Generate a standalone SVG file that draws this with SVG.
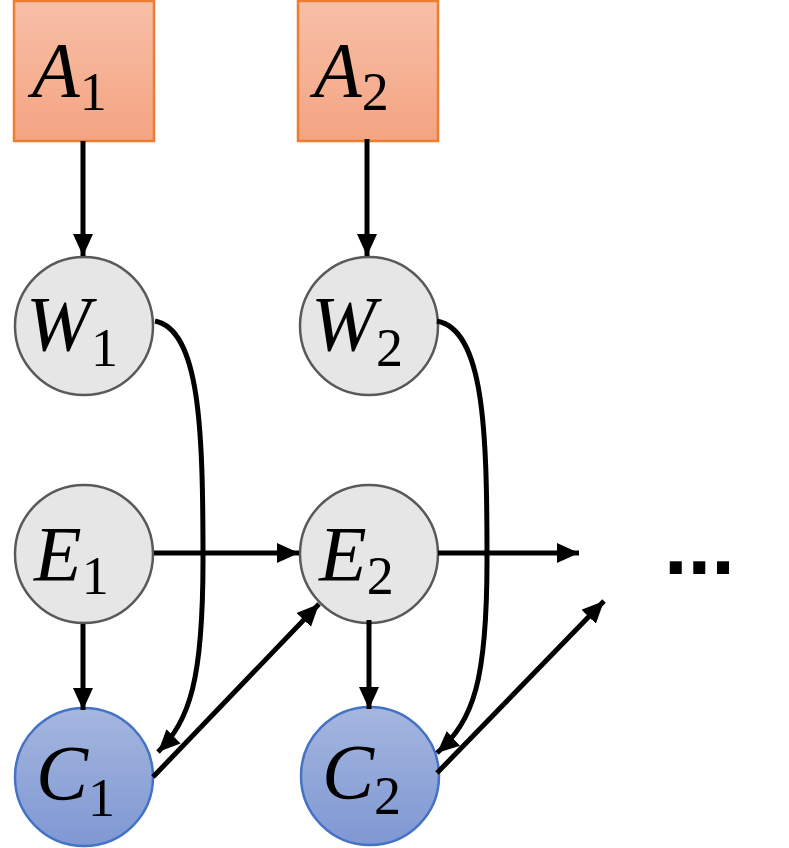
<svg xmlns="http://www.w3.org/2000/svg" width="789" height="848" viewBox="0 0 789 848">
<defs>
<linearGradient id="gA" x1="0" y1="0" x2="0" y2="1"><stop offset="0" stop-color="#f7bfa7"/><stop offset="1" stop-color="#f4a482"/></linearGradient>
<linearGradient id="gC" x1="0" y1="0" x2="0" y2="1"><stop offset="0" stop-color="#a5b6df"/><stop offset="1" stop-color="#7f98d3"/></linearGradient>
<marker id="ah" markerUnits="userSpaceOnUse" markerWidth="26" markerHeight="24" refX="22" refY="10" orient="auto"><path d="M0,0 L22,10 L0,20 Z" fill="#000"/></marker>
<style>
.box{fill:url(#gA);stroke:#ed7d31;stroke-width:2.5}
.gn{fill:#e6e6e6;stroke:#595959;stroke-width:2.5}
.cn{fill:url(#gC);stroke:#4472c4;stroke-width:2.5}
.lbl{font-family:"Liberation Serif","DejaVu Serif",serif;font-style:italic;font-size:78px;fill:#000}
.sub{font-style:normal;font-size:54px}
.e{fill:none;stroke:#000;stroke-width:5;marker-end:url(#ah)}
.dots{font-family:"Liberation Sans",Arial,sans-serif;font-weight:bold;font-size:85px;fill:#000}
</style>
</defs>
<g id="A1"><rect class="box" x="14" y="1" width="140" height="140"/><text class="lbl" x="32" y="96">A<tspan class="sub" y="110">1</tspan></text></g>
<g id="A2"><rect class="box" x="298" y="1" width="140" height="140"/><text class="lbl" x="314" y="96">A<tspan class="sub" y="110">2</tspan></text></g>
<g id="W1"><circle class="gn" cx="84" cy="326" r="69"/><text class="lbl" x="26" y="350">W<tspan class="sub" y="366">1</tspan></text></g>
<g id="W2"><circle class="gn" cx="369" cy="326" r="69"/><text class="lbl" x="311" y="350">W<tspan class="sub" y="366">2</tspan></text></g>
<g id="E1"><circle class="gn" cx="84" cy="554" r="69"/><text class="lbl" x="34" y="580">E<tspan class="sub" y="594">1</tspan></text></g>
<g id="E2"><circle class="gn" cx="369" cy="554" r="69"/><text class="lbl" x="319" y="580">E<tspan class="sub" y="594">2</tspan></text></g>
<g id="C1"><circle class="cn" cx="84" cy="777" r="69"/><text class="lbl" x="36" y="799">C<tspan class="sub" y="816">1</tspan></text></g>
<g id="C2"><circle class="cn" cx="370" cy="776" r="69"/><text class="lbl" x="322" y="798">C<tspan class="sub" y="814">2</tspan></text></g>
<g id="ellipsis"><text class="dots" x="664" y="574">...</text></g>
<g id="connectors">
<path class="e" d="M83,141 L83,256"/>
<path class="e" d="M367,139 L367,256"/>
<path class="e" d="M155,321 C200,330 203,430 203,560 C203,680 190,720 158,752"/>
<path class="e" d="M437,321 C484,330 487,430 487,560 C487,680 474,720 437,753"/>
<path class="e" d="M154,553 L299,553"/>
<path class="e" d="M438,553 L579,553"/>
<path class="e" d="M83,624 L83,710"/>
<path class="e" d="M369,620 L369,709"/>
<path class="e" d="M153,777 L319,604"/>
<path class="e" d="M437,773 L604,601"/>
</g>
</svg>
